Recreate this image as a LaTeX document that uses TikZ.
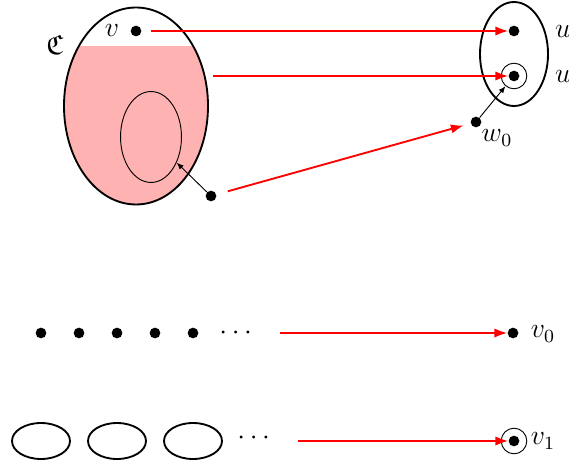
\documentclass[tikz,12pt,border=0pt]{standalone}
\usepackage{amsmath}
\usepackage{amssymb}
\usetikzlibrary{arrows.meta,shapes.geometric}

\begin{document}
\begin{tikzpicture}[x=0.43pt, y=-0.43pt,
	dot/.style = {circle, fill, inner sep=0pt, minimum size=4.6pt},
	ring/.style = {draw, circle, inner sep=0pt, minimum size=11pt},
	map/.style = {draw=red, line width=0.8pt, -{Latex[length=5.5pt,width=4pt]}},
	pull/.style = {-{Latex[length=3pt,width=2.4pt]}, line width=0.4pt}]
	\useasboundingbox (0,0) rectangle (569,470);
	% the class C, pink below v
	\begin{scope}
		\clip (136,106) ellipse [x radius=72, y radius=98.5];
		\fill[red!30] (60,46) rectangle (210,210);
	\end{scope}
	\draw[line width=0.8pt] (136,106) ellipse [x radius=72, y radius=98.5];
	\node[draw, ellipse, inner sep=0pt, minimum width=26.2pt, minimum height=39.1pt] (inner) at (151,137) {};
	\node[dot] (v) at (136,31) {};
	\node at (112,30) {$v$};
	\node at (55,45) {$\mathfrak{C}$};
	\node[dot] (x) at (211,196) {};
	\coordinate (c) at (213,76);
	% the target
	\draw[line width=0.8pt] (514,54) ellipse [x radius=34, y radius=52];
	\node[dot] (u1) at (514,31) {};
	\node[dot] (u2) at (514,76) {};
	\node[ring] (u2c) at (514,76) {};
	\node at (563,31) {$u$};
	\node at (563,76) {$u$};
	\node[dot] (w0) at (476,122) {};
	\node at (497,138) {$w_0$};
	\draw[map, shorten <=4pt] (v) -- (u1);
	\draw[map] (c) -- (u2);
	\draw[map, shorten <=5pt, shorten >=3pt] (x) -- (w0);
	\draw[pull] (x) -- (inner.-45);
	\draw[pull] (w0) -- (u2c.-130);
	% points
	\foreach \i/\px in {1/41,2/79,3/117,4/155,5/193}
		\node[dot] (a\i) at (\px,333) {};
	\node (adots) at (238,333) {$\cdots$};
	\node[dot] (v0) at (513,333) {};
	\node at (543,334) {$v_0$};
	\coordinate (a) at (280,333);
	\draw[map] (a) -- (v0);
	% components
	\foreach \px in {41,117,193}
		\draw[line width=0.8pt] (\px,441) ellipse [x radius=29, y radius=18];
	\node (bdots) at (256,438) {$\cdots$};
	\node[dot] (v1) at (514,441) {};
	\node[ring] (v1c) at (514,441) {};
	\node at (543,441) {$v_1$};
	\coordinate (b) at (298,441);
	\draw[map] (b) -- (v1);
\end{tikzpicture}
\end{document}
